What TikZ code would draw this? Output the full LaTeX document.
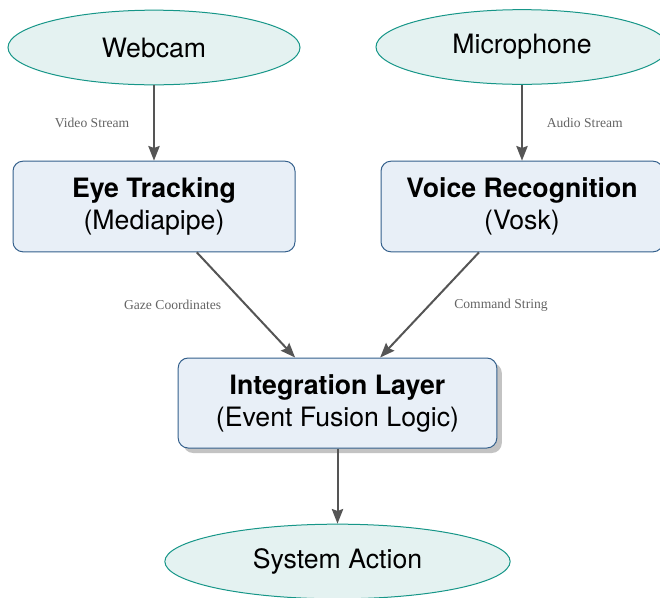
\documentclass[tikz,border=0pt]{standalone}
\usepackage{fontspec}
\setmainfont{TeX Gyre Heros}
\newfontfamily\edgefont{Liberation Serif}
\usetikzlibrary{shapes.geometric,arrows.meta,shadows}

\definecolor{ioline}{RGB}{22,150,136}
\definecolor{iofill}{RGB}{228,242,241}
\definecolor{procline}{RGB}{52,96,140}
\definecolor{procfill}{RGB}{232,239,247}
\definecolor{flowline}{RGB}{85,85,85}
\definecolor{flowtext}{RGB}{100,100,100}

\tikzset{
  iostate/.style={ellipse, draw=ioline, fill=iofill, line width=0.75pt,
    minimum width=219pt, minimum height=56pt, inner sep=0pt,
    font=\fontsize{20}{24}\selectfont},
  procbox/.style={rectangle, rounded corners=7.5pt, draw=procline, fill=procfill,
    line width=0.75pt, minimum width=211.5pt, minimum height=68pt,
    align=center, font=\fontsize{20}{24}\selectfont},
  flow/.style={draw=flowline, line width=1.5pt,
    -{Stealth[length=11pt,width=8.5pt,inset=1.5pt]}},
  flowlabel/.style={font=\edgefont\fontsize{10.2}{12}\selectfont, text=flowtext}
}

\begin{document}
\begin{tikzpicture}[x=0.75pt,y=0.75pt,yscale=-1,xscale=1]
    \useasboundingbox (0,0) rectangle (660,597);

    % Inputs
    \node [iostate] (cam) at (154,47.5) {Webcam};
    \node [iostate] (mic) at (522,47) {Microphone};

    % Recognition stages
    \node [procbox] (gaze) at (154,206.5) {\textbf{Eye Tracking}\\(Mediapipe)};
    \node [procbox] (voice) at (522,206.5) {\textbf{Voice Recognition}\\(Vosk)};

    % Fusion
    \node [procbox, minimum width=239pt, minimum height=67.5pt,
           drop shadow={shadow xshift=3.75pt, shadow yshift=-3.75pt, fill=black!28, opacity=0.85}]
          (fusion) at (337.5,403) {\textbf{Integration Layer}\\(Event Fusion Logic)};

    % Output
    \node [iostate, minimum width=259pt] (act) at (337.5,561.5) {System Action};

    % Data flow
    \draw [flow] (cam) -- node [flowlabel, left=14.5pt] {Video Stream} (gaze);
    \draw [flow] (mic) -- node [flowlabel, right=14.5pt] {Audio Stream} (voice);
    \draw [flow] (gaze) -- node [flowlabel, left=14.5pt] {Gaze Coordinates} (fusion);
    \draw [flow] (voice) -- node [flowlabel, right=14.5pt] {Command String} (fusion);
    \draw [flow] (fusion) -- (act);
\end{tikzpicture}
\end{document}
